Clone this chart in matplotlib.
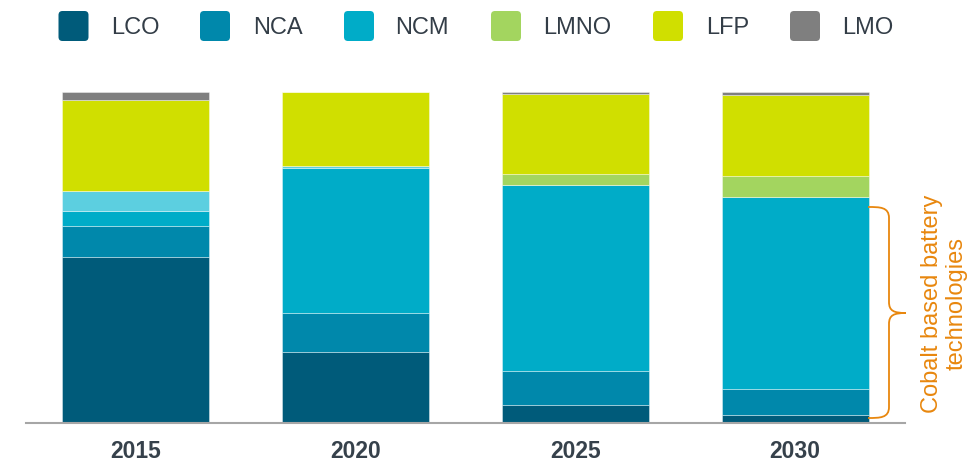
import matplotlib
matplotlib.use("Agg")
import matplotlib.pyplot as plt
import numpy as np
from matplotlib.patches import FancyBboxPatch, PathPatch
from matplotlib.path import Path
from matplotlib.transforms import Affine2D

plt.rcParams['font.family'] = ['Liberation Sans', 'DejaVu Sans']

# Battery chemistry market share (%), stacked bottom to top
years = ["2015", "2020", "2025", "2030"]
lco = [50.2, 21.5, 5.4, 2.3]
nca = [9.4, 11.8, 10.3, 7.9]
ncm = [4.5, 43.8, 56.2, 58.0]
ncm_other = [6.0, 0.6, 0.0, 0.0]
lmno = [0.0, 0.0, 3.3, 6.5]
lfp = [27.5, 22.3, 24.3, 24.5]
lmo = [2.4, 0.0, 0.5, 0.8]

series = [
    ("LCO", lco, "#005B7A", True),
    ("NCA", nca, "#0088AB", True),
    ("NCM", ncm, "#00ACC8", True),
    ("", ncm_other, "#5CCFE0", False),
    ("LMNO", lmno, "#A3D55F", True),
    ("LFP", lfp, "#D0DF00", True),
    ("LMO", lmo, "#7F7F7F", True),
]

W, H = 971, 463
fig = plt.figure(figsize=(W / 100, H / 100), dpi=100)
# pixel coordinates with origin at top-left
px = Affine2D().scale(1 / W, -1 / H).translate(0, 1) + fig.transFigure

ax = fig.add_axes([26 / W, (H - 423) / H, (905 - 26) / W, (423 - 92) / H])
x = np.arange(len(years))
bottom = np.zeros(len(years))
for name, vals, color, _ in series:
    vals = np.array(vals)
    ax.bar(x, vals, width=0.668, bottom=bottom, color=color,
           edgecolor=(1, 1, 1, 0.45), linewidth=0.6)
    bottom += vals

ax.set_xlim(-0.5, 3.5)
ax.set_ylim(0, 100)
ax.set_xticks(x)
ax.set_xticklabels(years, fontsize=16.5, fontweight="bold", color="#36414B")
ax.tick_params(axis="x", length=0, pad=12.5)
ax.set_yticks([])
for s in ["top", "left", "right"]:
    ax.spines[s].set_visible(False)
ax.spines["bottom"].set_color("#A6A6A6")
ax.spines["bottom"].set_linewidth(1.5)

# Legend row
sq_x = [58.5, 200, 344, 491, 653, 790]
tx_x = [111, 253, 395, 543, 706, 842]
legend_items = [(n, c) for n, _, c, show in series if show]
for (name, color), sx, tx in zip(legend_items, sq_x, tx_x):
    fig.patches.append(FancyBboxPatch((sx + 4, 15), 22, 22,
                                      boxstyle="round,pad=4,rounding_size=4",
                                      transform=px, facecolor=color,
                                      edgecolor="none"))
    fig.text(tx, 33.5, name, transform=px, fontsize=17, color="#333D47",
             ha="left", va="baseline")

# Brace marking cobalt based chemistries
verts = [(868, 207), (880, 207), (889, 207), (889, 218),
         (889, 302),
         (889, 311), (894, 313), (906, 313),
         (906, 313), (894, 313), (889, 315), (889, 324),
         (889, 407),
         (889, 418), (880, 418), (868, 418)]
codes = [Path.MOVETO, Path.CURVE4, Path.CURVE4, Path.CURVE4,
         Path.LINETO,
         Path.CURVE4, Path.CURVE4, Path.CURVE4,
         Path.MOVETO, Path.CURVE4, Path.CURVE4, Path.CURVE4,
         Path.LINETO,
         Path.CURVE4, Path.CURVE4, Path.CURVE4]
fig.patches.append(PathPatch(Path(verts, codes), transform=px,
                             facecolor="none", edgecolor="#E8870E",
                             linewidth=1.3))
fig.text(944, 304, "Cobalt based battery\ntechnologies", transform=px,
         rotation=90, fontsize=17, color="#E8870E", ha="center",
         va="center", multialignment="center", linespacing=1.15)

fig.savefig("out.png", dpi=100)
